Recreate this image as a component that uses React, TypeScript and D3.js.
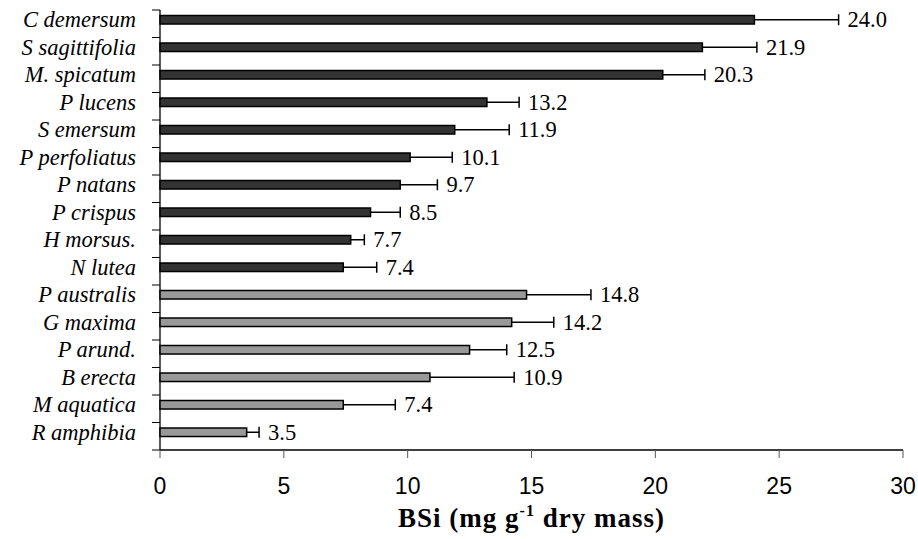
import React from 'react'
import * as d3 from 'd3'

const species = [
  'C demersum', 'S sagittifolia', 'M. spicatum', 'P lucens', 'S emersum',
  'P perfoliatus', 'P natans', 'P crispus', 'H morsus.', 'N lutea',
  'P australis', 'G maxima', 'P arund.', 'B erecta', 'M aquatica', 'R amphibia',
]
const bsi = [24.0, 21.9, 20.3, 13.2, 11.9, 10.1, 9.7, 8.5, 7.7, 7.4, 14.8, 14.2, 12.5, 10.9, 7.4, 3.5]
const errs = [3.4, 2.2, 1.7, 1.3, 2.2, 1.7, 1.5, 1.2, 0.55, 1.35, 2.6, 1.7, 1.5, 3.4, 2.1, 0.5]
// first ten are submerged, the rest emergent
const group = ['sub', 'sub', 'sub', 'sub', 'sub', 'sub', 'sub', 'sub', 'sub', 'sub', 'em', 'em', 'em', 'em', 'em', 'em']
const xTicks = [0, 5, 10, 15, 20, 25, 30]

const W = 918
const H = 539
const left = 160, right = 903, top = 10, bottom = 450
const serif = "'Times New Roman', Tinos, serif"
const sans = "'Liberation Sans', Arial, sans-serif"

const App = () => {
  const x = d3.scaleLinear().domain([0, 30]).range([left, right])
  const y = d3.scaleBand().domain(species).range([top, bottom]).padding(0)
  const bw = y.bandwidth()
  const barOff = bw * 0.2
  const barH = bw * 0.31
  const fill = d3.scaleOrdinal<string, string>().domain(['sub', 'em']).range(['#333333', '#999999'])

  const boundaries = species.map(s => y(s) as number).concat([bottom])

  return (
    <svg width={W} height={H} style={{ position: 'absolute', left: 0, top: 0, background: '#fff' }}>
      {/* y ticks at category boundaries */}
      {boundaries.map((b, i) => (
        <line key={'yt' + i} x1={left - 8} x2={left} y1={b} y2={b} stroke="#000" strokeWidth={1} />
      ))}
      <line x1={left} x2={left} y1={top} y2={bottom} stroke="#000" strokeWidth={1.3} />

      {species.map((s, i) => {
        const y0 = (y(s) as number) + barOff
        const cy = y0 + barH / 2
        const xEnd = x(bsi[i] + errs[i])
        return (
          <g key={s}>
            <rect x={x(0)} y={y0} width={x(bsi[i]) - x(0)} height={barH}
              fill={fill(group[i])} stroke="#000" strokeWidth={1.5} />
            <line x1={x(bsi[i])} x2={xEnd} y1={cy} y2={cy} stroke="#000" strokeWidth={1.5} />
            <line x1={xEnd} x2={xEnd} y1={cy - 5.5} y2={cy + 5.5} stroke="#000" strokeWidth={1.5} />
            <text x={left - 24} y={cy + 7.5} textAnchor="end"
              style={{ fontFamily: serif, fontStyle: 'italic', fontSize: 22.5 }}>
              {s}
            </text>
            <text x={xEnd + 9} y={cy + 7.5} style={{ fontFamily: serif, fontSize: 22.5 }}>
              {d3.format('.1f')(bsi[i])}
            </text>
          </g>
        )
      })}

      {/* x axis */}
      <line x1={left} x2={right} y1={bottom} y2={bottom} stroke="#000" strokeWidth={1.3} />
      {xTicks.map(t => (
        <g key={'xt' + t}>
          <line x1={x(t)} x2={x(t)} y1={bottom} y2={bottom + 8} stroke="#555" strokeWidth={1} />
          <text x={x(t)} y={494} textAnchor="middle" style={{ fontFamily: sans, fontSize: 23 }}>
            {t}
          </text>
        </g>
      ))}
      <text x={(left + right) / 2} y={527} textAnchor="middle"
        style={{ fontFamily: serif, fontWeight: 'bold', fontSize: 27, letterSpacing: 1 }}>
        BSi (mg g<tspan fontSize={16} dy={-11}>-1</tspan><tspan dy={11}> dry mass)</tspan>
      </text>
    </svg>
  )
}

export default App
